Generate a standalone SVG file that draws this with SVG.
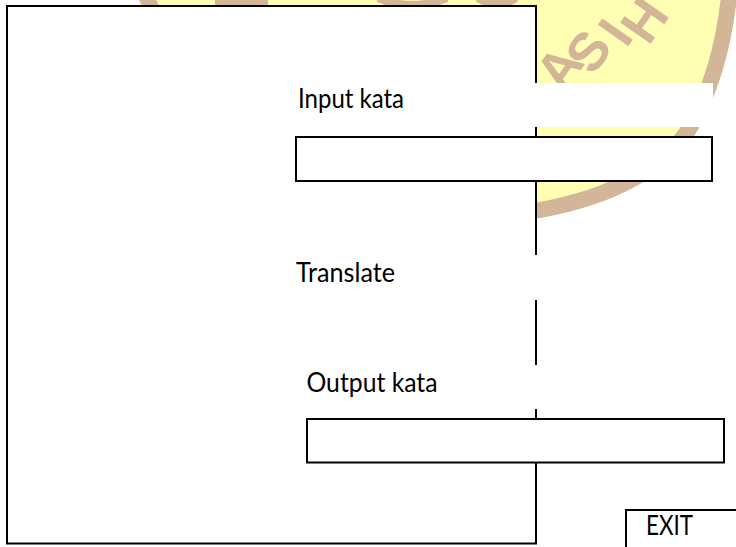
<svg xmlns="http://www.w3.org/2000/svg" width="736" height="547" viewBox="0 0 736 547">
  <style>
    .frame { fill: #ffffff; stroke: #000000; stroke-width: 2; }
    .field { fill: #ffffff; stroke: #000000; stroke-width: 2; }
    .mask { fill: #ffffff; stroke: none; }
    .label { font-family: Lato, "Liberation Sans", sans-serif; font-size: 26px; fill: #000000; }
    .seal { fill: #ffffb4; stroke: #d3b597; stroke-width: 16; }
    .seal-line { fill: none; stroke: #d3b597; }
    .seal-text { font-family: "Liberation Sans", sans-serif; font-weight: bold; font-size: 54px; fill: #d3b597; text-anchor: middle; }
  </style>

  <rect width="736" height="547" fill="#ffffff"/>

  <!-- background seal watermark -->
  <g id="watermark">
    <path class="seal" d="M 731,-30 C 728,30 715,82 691,126 C 665,167 616,196 540,210 C 410,232 190,150 137,-30 Z"/>
    <path class="seal-line" stroke-width="12" d="M 215,0 L 268,0"/>
    <path class="seal-line" stroke-width="8" d="M 378,-2 Q 412,12 447,-2"/>
    <path class="seal-line" stroke-width="8" d="M 478,-2 Q 497,10 516,-2"/>
    <text class="seal-text" transform="translate(559,68) rotate(-55)" dy="19">A</text>
    <text class="seal-text" transform="translate(588,51) rotate(-55)" dy="19">S</text>
    <text class="seal-text" transform="translate(615,32) rotate(-55)" dy="19">I</text>
    <text class="seal-text" transform="translate(644,20) rotate(-55)" dy="19">H</text>
  </g>

  <!-- main window frame -->
  <g id="window">
    <rect class="frame" x="7" y="6" width="529" height="537.5"/>
  </g>

  <!-- label: Input kata -->
  <g id="label-input">
    <rect class="mask" x="290" y="83" width="423" height="44"/>
    <text class="label" x="298" y="108" textLength="106" lengthAdjust="spacingAndGlyphs">Input kata</text>
  </g>

  <!-- input text field -->
  <g id="field-input">
    <rect class="field" x="296" y="137" width="416" height="44"/>
  </g>

  <!-- label: Translate -->
  <g id="label-translate">
    <rect class="mask" x="290" y="255" width="423" height="45"/>
    <text class="label" x="296" y="282" textLength="99" lengthAdjust="spacingAndGlyphs">Translate</text>
  </g>

  <!-- label: Output kata -->
  <g id="label-output">
    <rect class="mask" x="300" y="365" width="423" height="44"/>
    <text class="label" x="306.5" y="392" textLength="131" lengthAdjust="spacingAndGlyphs">Output kata</text>
  </g>

  <!-- output text field -->
  <g id="field-output">
    <rect class="field" x="307" y="419" width="417" height="43.5"/>
  </g>

  <!-- exit button -->
  <g id="button-exit">
    <rect class="field" x="626" y="510" width="130" height="60"/>
    <text class="label" x="646" y="535" textLength="47" lengthAdjust="spacingAndGlyphs">EXIT</text>
  </g>
</svg>
